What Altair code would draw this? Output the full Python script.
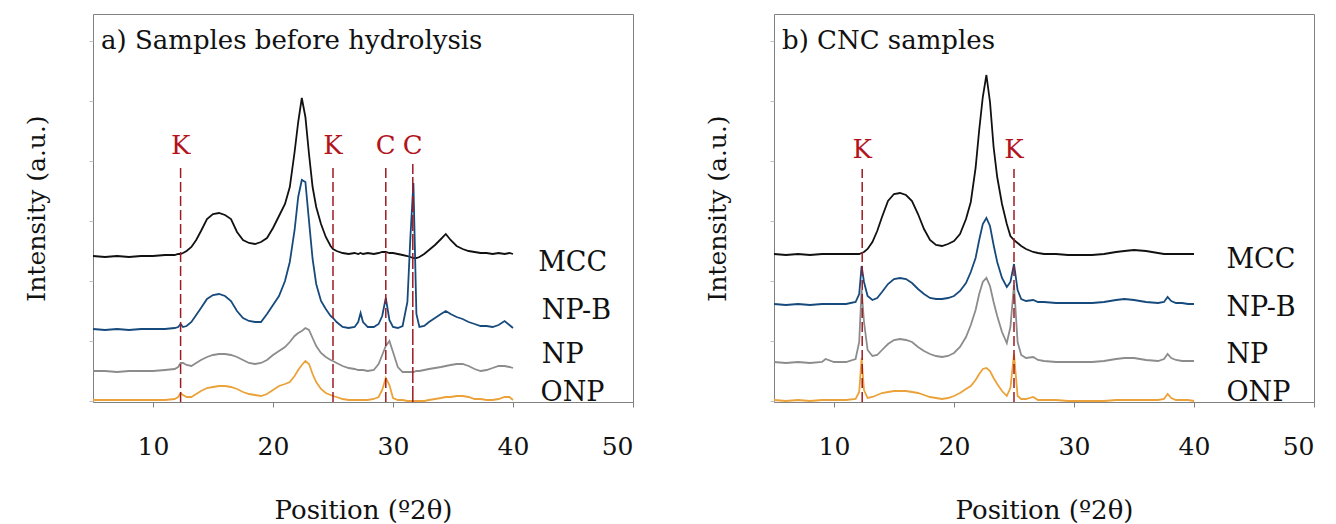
import altair as alt
import pandas as pd

FONT = "DejaVu Serif"

# ---------------- Panel a: samples before hydrolysis ----------------
x_a = [5, 6, 7, 8, 9, 10, 11, 11.8, 12.1, 12.3,
       12.5, 12.8, 13.2, 13.6, 14.0, 14.5, 15.0, 15.5, 16.0, 16.5,
       17.0, 17.5, 18.0, 18.5, 19.0, 19.5, 20.0, 20.5, 21.0, 21.4,
       21.8, 22.1, 22.4, 22.7, 23.0, 23.3, 23.6, 24.0, 24.4, 24.8,
       25.0, 25.3, 25.8, 26.3, 26.8, 27.1, 27.3, 27.5, 27.9, 28.4,
       28.8, 29.1, 29.4, 29.7, 30.0, 30.4, 30.8, 31.2, 31.45, 31.7,
       31.95, 32.2, 32.6, 33.0, 33.5, 34.0, 34.4, 34.8, 35.3, 35.8,
       36.3, 36.8, 37.3, 37.8, 38.3, 38.8, 39.3, 39.7, 40.0]

mcc_a = [146, 145, 146, 145, 146, 146, 147, 147, 148, 148,
         149, 151, 155, 162, 171, 183, 188, 189, 187, 183,
         170, 162, 159, 158, 160, 164, 174, 186, 198, 215,
         250, 280, 304, 285, 248, 215, 195, 178, 165, 156,
         153, 151, 149, 148, 149, 148, 149, 148, 149, 148,
         149, 150, 150, 149, 149, 148, 147, 146, 145, 144,
         144, 145, 148, 152, 157, 163, 168, 162, 156, 153,
         151, 150, 149, 149, 148, 149, 148, 149, 148]

npb_a = [73, 72, 73, 72, 73, 73, 73, 74, 75, 78,
         75, 76, 80, 87, 94, 103, 107, 108, 106, 101,
         91, 84, 81, 80, 80, 88, 97, 106, 121, 140,
         172, 205, 222, 220, 181, 143, 118, 101, 93, 86,
         84, 80, 75, 74, 75, 80, 89, 80, 75, 75,
         78, 86, 104, 82, 75, 74, 76, 100, 165, 219,
         88, 75, 76, 80, 84, 88, 91, 88, 85, 83,
         80, 78, 76, 76, 75, 77, 81, 77, 74]

np_a = [31, 31, 30, 31, 31, 31, 32, 33, 35, 39,
        39, 37, 36, 39, 42, 45, 47, 48, 48, 47,
        45, 42, 39, 38, 39, 42, 47, 51, 55, 60,
        66, 69, 71, 74, 72, 64, 56, 49, 45, 42,
        41, 39, 36, 34, 33, 32, 32, 32, 31, 32,
        38, 47, 56, 61, 50, 35, 30, 30, 30, 30,
        31, 31, 32, 33, 34, 35, 36, 37, 38, 38,
        36, 33, 31, 32, 34, 36, 36, 35, 34]

onp_a = [2, 2, 2, 2, 2, 2, 2, 3, 5, 9,
         7, 5, 5, 8, 11, 14, 15, 16, 16, 15,
         13, 10, 8, 7, 6, 8, 12, 16, 18, 20,
         26, 32, 37, 41, 38, 28, 20, 13, 9, 7,
         6, 5, 3, 2, 2, 2, 2, 2, 2, 3,
         5, 12, 24, 17, 4, 2, 2, 1, 1, 1,
         1, 1, 1, 2, 3, 4, 5, 5, 6, 6,
         5, 3, 3, 2, 2, 3, 5, 5, 2]

peak_pos_a = [12.3, 25.0, 29.4, 31.65]
peak_lab_a = ["K", "K", "C", "C"]
peak_dash_a = ["d", "d", "d", "s"]
peak_top_a = 238
peak_text_a = 248

lab_pos_a = [42.1, 42.4, 42.4, 42.3]
lab_val_a = [131, 83, 39, 1]

# ---------------- Panel b: CNC samples ----------------
x_b = [5, 6, 7, 8, 9, 9.3, 10, 11, 11.8, 12.1,
       12.3, 12.5, 12.8, 13.2, 13.6, 14.0, 14.5, 15.0, 15.5, 16.0,
       16.5, 17.0, 17.5, 18.0, 18.5, 19.0, 19.5, 20.0, 20.5, 21.0,
       21.4, 21.8, 22.1, 22.4, 22.7, 23.0, 23.3, 23.6, 24.0, 24.4,
       24.7, 25.0, 25.3, 25.6, 26.0, 26.6, 27.0, 27.5, 28.5, 29.5,
       30.5, 31.5, 32.5, 33.5, 34.2, 35.0, 36.0, 37.0, 37.5, 37.8,
       38.1, 38.5, 39.0, 39.5, 40.0]

mcc_b = [148, 147, 148, 147, 148, 148, 148, 148, 148, 148,
         149, 150, 153, 160, 171, 185, 201, 208, 209, 207,
         201, 188, 173, 162, 157, 156, 158, 161, 168, 183,
         200, 234, 272, 305, 327, 300, 255, 225, 198, 178,
         166, 162, 159, 156, 153, 150, 149, 148, 148, 147,
         147, 147, 148, 150, 151, 152, 151, 149, 148, 148,
         148, 148, 148, 148, 148]

npb_b = [98, 97, 98, 97, 98, 98, 98, 98, 100, 108,
         136, 120, 106, 102, 104, 110, 118, 123, 124, 123,
         119, 113, 108, 104, 103, 103, 104, 106, 111, 119,
         130, 144, 162, 178, 184, 176, 157, 140, 124, 115,
         120, 138, 112, 103, 101, 102, 100, 100, 99, 99,
         99, 99, 100, 102, 103, 102, 100, 99, 100, 105,
         101, 99, 99, 98, 98]

np_b = [40, 39, 40, 39, 40, 43, 40, 40, 43, 60,
        112, 80, 52, 46, 47, 52, 58, 62, 63, 62,
        60, 55, 51, 48, 46, 45, 46, 49, 55, 65,
        77, 92, 108, 120, 124, 116, 100, 86, 70, 59,
        75, 117, 60, 47, 44, 45, 42, 41, 40, 40,
        40, 40, 41, 43, 44, 44, 42, 41, 43, 48,
        44, 42, 41, 41, 41]

onp_b = [2, 1, 2, 1, 2, 2, 2, 2, 3, 10,
         44, 12, 4, 5, 7, 9, 10, 11, 11, 11,
         10, 9, 7, 5, 4, 3, 4, 6, 9, 13,
         16, 22, 28, 33, 34, 31, 24, 18, 11, 6,
         14, 48, 6, 3, 3, 5, 2, 2, 2, 1,
         1, 1, 1, 2, 2, 2, 2, 2, 3, 8,
         4, 2, 2, 2, 1]

peak_pos_b = [12.35, 25.0]
peak_lab_b = ["K", "K"]
peak_dash_b = ["d", "d"]
peak_top_b = 233
peak_text_b = 244

lab_pos_b = [42.7, 42.7, 42.7, 42.7]
lab_val_b = [134, 86, 39, 1]

samples = ["MCC", "NP-B", "NP", "ONP"]
sample_colors = ["#111111", "#174a7c", "#8c8c8c", "#eba23a"]
line_color = "#9e1b22"
text_red = "#b3141c"
frame = "#808080"

W, H = 540, 388


def panel(xg, series, ppos, plab, pdash, ptop, ptext, lpos, lval, title):
    rows = []
    for name, vals in zip(samples, series):
        if len(vals) != len(xg):
            raise ValueError(f"length mismatch for {name}: {len(vals)} vs {len(xg)}")
        for xv, yv in zip(xg, vals):
            rows.append({"pos": xv, "val": yv, "sample": name})
    df = pd.DataFrame(rows)

    xs = alt.Scale(domain=[5, 50], nice=False, zero=False)
    ys = alt.Scale(domain=[0, H], nice=False)

    xaxis = alt.Axis(values=[10, 20, 30, 40, 50], title="Position (º2θ)",
                     grid=False, tickSize=5, labelPadding=27, titlePadding=38,
                     labelFontSize=25, titleFontSize=26)
    yaxis = alt.Axis(values=[1, 61, 121, 181, 241, 301, 361], labels=False,
                     title="Intensity (a.u.)", grid=False, domain=False,
                     tickSize=4, tickColor="#c0c0c0", titlePadding=39,
                     titleFontSize=25)

    traces = alt.Chart(df).mark_line(strokeWidth=1.8).encode(
        x=alt.X("pos:Q", scale=xs, axis=xaxis),
        y=alt.Y("val:Q", scale=ys, axis=yaxis),
        color=alt.Color("sample:N", scale=alt.Scale(domain=samples, range=sample_colors),
                        legend=None),
        order=alt.Order("pos:Q"),
    )

    pk = pd.DataFrame({"pos": ppos, "label": plab, "dash": pdash,
                       "bottom": [0] * len(ppos), "top": [ptop] * len(ppos),
                       "ty": [ptext] * len(ppos)})
    rules = alt.Chart(pk).mark_rule(color=line_color, strokeWidth=1.5).encode(
        x="pos:Q",
        y="bottom:Q",
        y2="top:Q",
        strokeDash=alt.StrokeDash("dash:N", scale=alt.Scale(domain=["d", "s"],
                                  range=[[10, 4], [16, 3]]), legend=None),
    )
    ptexts = alt.Chart(pk).mark_text(font=FONT, fontSize=26, color=text_red,
                                     align="center", baseline="alphabetic").encode(
        x="pos:Q", y="ty:Q", text="label:N")

    lab = pd.DataFrame({"pos": lpos, "val": lval, "name": samples})
    stexts = alt.Chart(lab).mark_text(font=FONT, fontSize=27, color="#111111",
                                      align="left", baseline="alphabetic").encode(
        x="pos:Q", y="val:Q", text="name:N")

    ttl = alt.Chart(pd.DataFrame({"t": [title]})).mark_text(
        font=FONT, fontSize=26, color="#111111", align="left", baseline="alphabetic"
    ).encode(x=alt.value(8), y=alt.value(35), text="t:N")

    return alt.layer(traces, rules, ptexts, stexts, ttl).properties(width=W, height=H)


pa = panel(x_a, [mcc_a, npb_a, np_a, onp_a], peak_pos_a, peak_lab_a, peak_dash_a,
           peak_top_a, peak_text_a, lab_pos_a, lab_val_a, "a) Samples before hydrolysis")
pb = panel(x_b, [mcc_b, npb_b, np_b, onp_b], peak_pos_b, peak_lab_b, peak_dash_b,
           peak_top_b, peak_text_b, lab_pos_b, lab_val_b, "b) CNC samples")

chart = alt.hconcat(pa, pb, spacing=71).properties(
    padding={"left": 16, "top": 5, "right": 5, "bottom": 5}
).configure_view(
    stroke=frame, strokeWidth=1
).configure_axis(
    labelFont=FONT, titleFont=FONT, labelColor="#111111", titleColor="#111111",
    titleFontWeight="normal", domainColor=frame, tickColor=frame
)

chart.save("out.html", embed_options={"renderer": "svg", "actions": False})
